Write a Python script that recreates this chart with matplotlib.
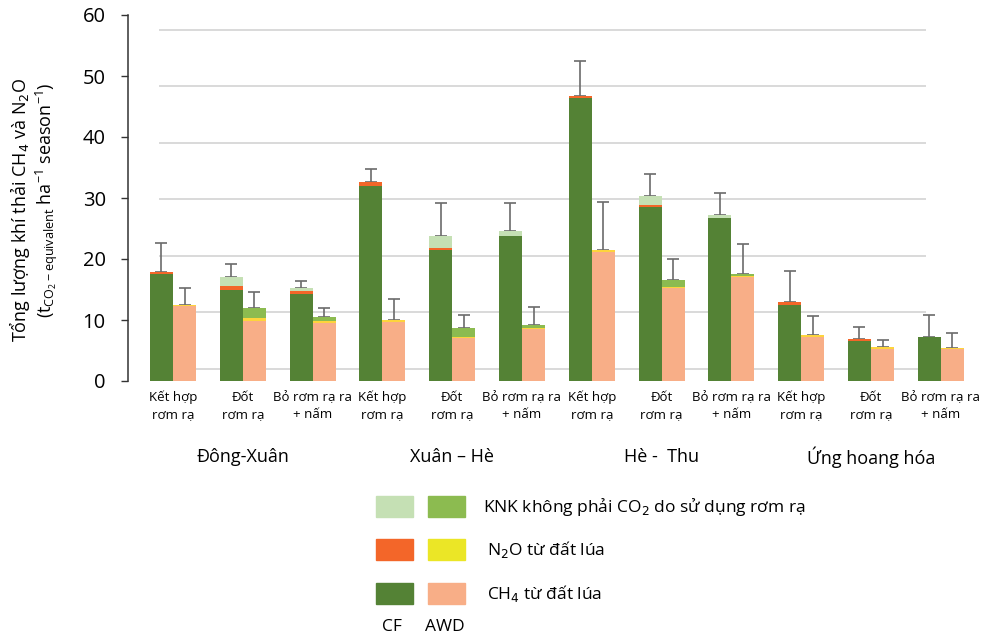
import matplotlib.pyplot as plt
from matplotlib.patches import Rectangle
from matplotlib.transforms import blended_transform_factory
import numpy as np

plt.rcParams['font.family'] = ['Open Sans', 'DejaVu Sans']

# category labels (bar pairs) and seasons
treatments = ['Kết hợp\nrơm rạ', 'Đốt\nrơm rạ', 'Bỏ rơm rạ ra\n+ nấm'] * 4
seasons = ['Đông-Xuân', 'Xuân – Hè', 'Hè -  Thu', 'Ứng hoang hóa']

# CF (continuous flooding)
cf_ch4 = [17.6, 15.0, 14.3, 32.0, 21.4, 23.7, 46.4, 28.5, 26.7, 12.4, 6.5, 7.25]
cf_n2o = [0.35, 0.5, 0.4, 0.6, 0.35, 0.0, 0.4, 0.4, 0.0, 0.6, 0.4, 0.0]
cf_knk = [0.0, 1.6, 0.6, 0.0, 1.95, 0.9, 0.0, 1.4, 0.55, 0.0, 0.0, 0.0]
cf_err = [4.65, 2.0, 1.1, 2.1, 5.5, 4.6, 5.7, 3.6, 3.65, 5.1, 2.0, 3.55]

# AWD (alternate wetting and drying)
awd_ch4 = [12.25, 9.9, 9.55, 9.6, 6.98, 8.46, 21.1, 15.2, 17.1, 7.25, 5.3, 5.3]
awd_n2o = [0.25, 0.5, 0.35, 0.45, 0.27, 0.24, 0.3, 0.2, 0.15, 0.35, 0.3, 0.15]
awd_knk = [0.0, 1.6, 0.65, 0.0, 1.45, 0.5, 0.0, 1.1, 0.25, 0.0, 0.0, 0.0]
awd_err = [2.8, 2.6, 1.35, 3.45, 2.1, 2.9, 7.9, 3.55, 4.9, 3.1, 1.05, 2.35]

# grid lines sit a bit off the tick positions in the original
grid_vals = [1.98, 11.25, 20.5, 29.8, 39.05, 48.3, 57.6]

c_cf = ['#548235', '#f36629', '#c5e0b4']
c_awd = ['#f8ae87', '#fdd43c', '#8cbb50']
c_awd_leg = ['#f8ae87', '#ebe626', '#8cbb50']

W, H = 983, 641
fig = plt.figure(figsize=(W / 100, H / 100), dpi=100)
ax = fig.add_axes([128 / W, 1 - 381 / H, 852 / W, 366 / H])

x = np.arange(len(treatments))
bw = 0.33

for k in grid_vals:
    ax.axhline(k, xmin=0.037, xmax=0.935, color='#d9d9d9', lw=1.4, zorder=0)

def stack(xpos, ch4, n2o, knk, err, cols):
    ch4 = np.array(ch4); n2o = np.array(n2o); knk = np.array(knk)
    ax.bar(xpos, ch4, bw, color=cols[0], zorder=2)
    ax.bar(xpos, n2o, bw, bottom=ch4, color=cols[1], zorder=2)
    ax.bar(xpos, knk, bw, bottom=ch4 + n2o, color=cols[2], zorder=2)
    top = ch4 + n2o + knk
    ax.errorbar(xpos, top, yerr=[np.zeros(len(top)), err], fmt='none',
                ecolor='#6b6b6b', elinewidth=1.2, capsize=4.5, capthick=1.2, zorder=1)

stack(x - bw / 2, cf_ch4, cf_n2o, cf_knk, cf_err, c_cf)
stack(x + bw / 2, awd_ch4, awd_n2o, awd_knk, awd_err, c_awd)

ax.set_xlim((128 - 173) / 69.8, (980 - 173) / 69.8)
ax.set_ylim(0, 60)
ax.set_yticks(range(0, 61, 10))
ax.tick_params(axis='y', direction='out', length=5, width=1, labelsize=14.5, pad=11, color='#333333')
ax.set_xticks(x, treatments)
for lab in ax.get_xticklabels():
    lab.set_linespacing(1.4)
ax.tick_params(axis='x', length=0, labelsize=9.5, pad=7)
for s in ['top', 'right', 'bottom']:
    ax.spines[s].set_visible(False)
ax.spines['left'].set_color('#333333')
ax.spines['left'].set_linewidth(1.1)

fig.text(20 / W, 1 - 210 / H, 'Tổng lượng khí thải CH$_4$ và N$_2$O', rotation=90,
         ha='center', va='center', fontsize=13)
fig.text(47 / W, 1 - 200 / H, '(t$_{\\mathregular{CO_2 - equivalent}}$ ha$^{\\mathregular{-1}}$ season$^{\\mathregular{-1}}$)',
         rotation=90, ha='center', va='center', fontsize=13)

tr = blended_transform_factory(ax.transData, fig.transFigure)
for g, name in enumerate(seasons):
    ax.text(3 * g + 1, 1 - 457 / H, name, transform=tr, ha='center', va='center', fontsize=13)

# legend drawn by hand, two swatches per row
rows = [('KNK không phải CO$_2$ do sử dụng rơm rạ', 2, 496, 483),
        ('N$_2$O từ đất lúa', 1, 539, 487),
        ('CH$_4$ từ đất lúa', 0, 583, 487)]
for label, i, y0, tx in rows:
    for x0, cols in [(376, c_cf), (428, c_awd_leg)]:
        fig.add_artist(Rectangle((x0 / W, 1 - (y0 + 21) / H), 37 / W, 21 / H,
                                 transform=fig.transFigure, color=cols[i]))
    fig.text(tx / W, 1 - (y0 + 11) / H, label, ha='left', va='center', fontsize=12.5)
fig.text(392 / W, 1 - 627 / H, 'CF', ha='center', va='center', fontsize=12.5)
fig.text(445 / W, 1 - 627 / H, 'AWD', ha='center', va='center', fontsize=12.5)

fig.savefig('out.png', dpi=100)
